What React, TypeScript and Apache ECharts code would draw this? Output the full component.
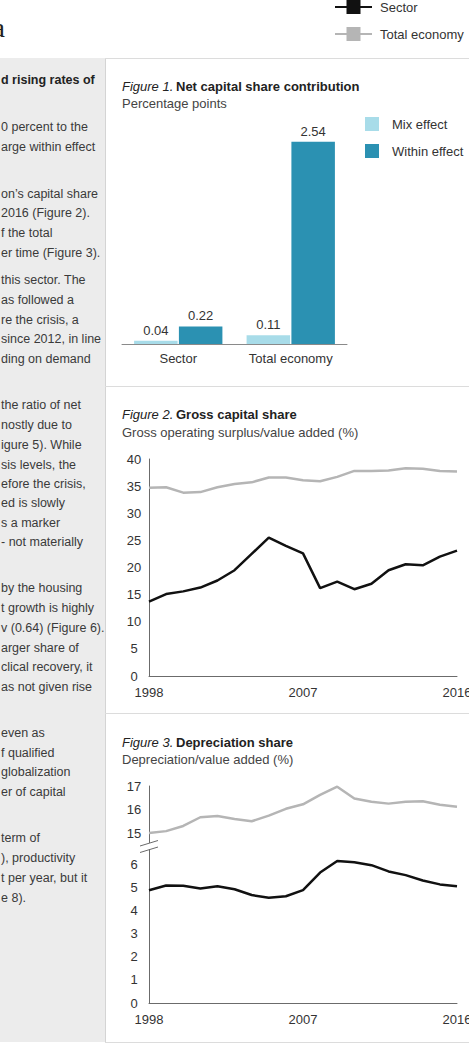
import React, { useEffect, useRef } from "react";
import * as echarts from "echarts";

// ---------- data ----------
const barCategories = ["Sector", "Total economy"];
const mixEffect = [0.04, 0.11];
const withinEffect = [0.22, 2.54];

const years = [
  "1998", "1999", "2000", "2001", "2002", "2003", "2004", "2005", "2006", "2007",
  "2008", "2009", "2010", "2011", "2012", "2013", "2014", "2015", "2016",
];

// Figure 2: gross operating surplus / value added (%)
const grossSector = [13.7, 15.1, 15.6, 16.3, 17.6, 19.5, 22.5, 25.5, 24.0, 22.6, 16.2, 17.4, 16.0, 17.0, 19.5, 20.6, 20.4, 22.0, 23.1];
const grossTotal = [34.7, 34.8, 33.8, 33.9, 34.8, 35.4, 35.7, 36.6, 36.6, 36.1, 35.9, 36.7, 37.8, 37.8, 37.9, 38.3, 38.2, 37.8, 37.7];

// Figure 3: depreciation / value added (%)
const deprSector = [4.87, 5.07, 5.06, 4.94, 5.04, 4.91, 4.66, 4.54, 4.61, 4.87, 5.63, 6.13, 6.08, 5.95, 5.68, 5.52, 5.29, 5.12, 5.04];
const deprTotal = [15.0, 15.08, 15.3, 15.67, 15.72, 15.6, 15.5, 15.74, 16.03, 16.22, 16.62, 16.97, 16.47, 16.33, 16.25, 16.33, 16.35, 16.2, 16.12];

// Left column (clipped article text)
const leftText = [
  "d rising rates of",
  "0 percent to the",
  "arge within effect",
  "on\u2019s capital share",
  "2016 (Figure 2).",
  "f the total",
  "er time (Figure 3).",
  "this sector. The",
  "as followed a",
  "re the crisis, a",
  "since 2012, in line",
  "ding on demand",
  "the ratio of net",
  "nostly due to",
  "igure 5). While",
  "sis levels, the",
  "efore the crisis,",
  "ed is slowly",
  "s a marker",
  "- not materially",
  "by the housing",
  "t growth is highly",
  "v (0.64) (Figure 6).",
  "arger share of",
  "clical recovery, it",
  "as not given rise",
  "even as",
  "f qualified",
  "globalization",
  "er of capital",
  "term of",
  "), productivity",
  "t per year, but it",
  "e 8).",
];
// vertical centre of each of those lines
const leftTextY = [
  80, 127, 147, 194, 213, 233, 253,
  280, 300, 320, 339, 359,
  405, 425, 445, 465, 484, 503, 523, 542,
  588, 608, 628, 648, 667, 687,
  733, 753, 772, 792,
  838, 858, 878, 898,
];

const FONT = "'Liberation Sans', Arial, Helvetica, sans-serif";
const AXIS_COLOR = "#6b6b6b";
const TEXT_COLOR = "#333333";
const SECTOR_COLOR = "#111111";
const TOTAL_COLOR = "#b5b5b5";
const MIX_COLOR = "#a8dce9";
const WITHIN_COLOR = "#2b91b2";

const LINE_ICON = "path://M0,6H11.5V0H25.5V6H37V8H25.5V14H11.5V8H0Z";

function txt(text: string, x: number, y: number, opts: any = {}) {
  return {
    type: "text",
    silent: true,
    style: {
      text,
      x,
      y,
      fill: opts.fill || TEXT_COLOR,
      fontSize: opts.fontSize || 13,
      fontFamily: opts.fontFamily || FONT,
      fontWeight: opts.fontWeight || "normal",
      fontStyle: opts.fontStyle || "normal",
      align: opts.align || "left",
      verticalAlign: "middle",
    },
  };
}

function seg(x1: number, y1: number, x2: number, y2: number, stroke: string, lineWidth = 1) {
  return {
    type: "line",
    silent: true,
    shape: { x1, y1, x2, y2 },
    style: { stroke, lineWidth },
  };
}

export default function App() {
  const ref = useRef<HTMLDivElement>(null);

  useEffect(() => {
    if (!ref.current) return;
    const chart = echarts.init(ref.current, undefined, { renderer: "svg" });

    const yAxisCommon = {
      type: "value",
      axisLine: { show: true, lineStyle: { color: AXIS_COLOR, width: 1 } },
      axisTick: { show: false },
      splitLine: { show: false },
      axisLabel: { fontSize: 13, color: TEXT_COLOR, fontFamily: FONT, align: "center", margin: 15 },
    };
    const xLineAxis = {
      type: "category",
      data: years,
      boundaryGap: false,
      axisLine: { show: true, lineStyle: { color: AXIS_COLOR, width: 1 } },
      axisTick: { show: false },
      axisLabel: {
        interval: 8,
        fontSize: 13,
        color: TEXT_COLOR,
        fontFamily: FONT,
        margin: 10,
        alignMinLabel: "center",
        alignMaxLabel: "center",
      },
    };

    const graphics: any[] = [
      // gray article panel
      { type: "rect", silent: true, shape: { x: 0, y: 58, width: 105, height: 984 }, style: { fill: "#ececec" } },
      // borders
      seg(105.5, 58, 105.5, 1042, "#d4d4d4"),
      seg(105, 58.5, 469, 58.5, "#dcdcdc"),
      seg(105, 386.5, 469, 386.5, "#dcdcdc"),
      seg(105, 713.5, 469, 713.5, "#dcdcdc"),
      seg(105, 1042.5, 469, 1042.5, "#dcdcdc"),
      // clipped heading glyph
      txt("a", 5, 27, { fontSize: 28, fontFamily: "'Liberation Serif', serif", fill: "#222", align: "right" }),
      // figure titles
      txt("Figure 1.", 122, 86, { fontStyle: "italic", fill: "#222" }),
      txt("Net capital share contribution", 176, 86, { fontWeight: "bold", fill: "#222" }),
      txt("Percentage points", 122, 103, { fill: "#444" }),
      txt("Figure 2.", 122, 414, { fontStyle: "italic", fill: "#222" }),
      txt("Gross capital share", 176, 414, { fontWeight: "bold", fill: "#222" }),
      txt("Gross operating surplus/value added (%)", 122, 432, { fill: "#444" }),
      txt("Figure 3.", 122, 742, { fontStyle: "italic", fill: "#222" }),
      txt("Depreciation share", 176, 742, { fontWeight: "bold", fill: "#222" }),
      txt("Depreciation/value added (%)", 122, 759, { fill: "#444" }),
      // broken axis joints for figure 3
      seg(149.5, 833, 149.5, 843, AXIS_COLOR),
      seg(149.5, 849, 149.5, 864, AXIS_COLOR),
      seg(140, 846, 158, 840.5, AXIS_COLOR),
      seg(140, 852.5, 158, 847, AXIS_COLOR),
    ];
    leftText.forEach((t, i) => {
      graphics.push(
        txt(t, 1, leftTextY[i], {
          align: "left",
          fontSize: 12.5,
          fontWeight: i === 0 ? "bold" : "normal",
          fill: i === 0 ? "#222" : "#3a3a3a",
        })
      );
    });

    const option: any = {
      animation: false,
      backgroundColor: "#ffffff",
      textStyle: { fontFamily: FONT },
      legend: [
        {
          data: ["Sector", "Total economy"],
          orient: "vertical",
          left: 335,
          top: 0,
          padding: 0,
          itemWidth: 37,
          itemHeight: 14,
          itemGap: 13,
          icon: LINE_ICON,
          itemStyle: { borderWidth: 0 },
          selectedMode: false,
          textStyle: { fontSize: 13, color: TEXT_COLOR, fontFamily: FONT, padding: [0, 0, 0, 3] },
        },
        {
          data: ["Mix effect", "Within effect"],
          orient: "vertical",
          left: 365,
          top: 117,
          padding: 0,
          itemWidth: 14,
          itemHeight: 14,
          itemGap: 13,
          icon: "rect",
          itemStyle: { borderWidth: 0 },
          selectedMode: false,
          textStyle: { fontSize: 13, color: TEXT_COLOR, fontFamily: FONT, padding: [0, 0, 0, 8] },
        },
      ],
      grid: [
        { left: 122, top: 137, width: 225, height: 207, outerBoundsMode: "none" },
        { left: 149, top: 459, width: 308, height: 217, outerBoundsMode: "none" },
        { left: 149, top: 786, width: 308, height: 47, outerBoundsMode: "none" },
        { left: 149, top: 864, width: 308, height: 139, outerBoundsMode: "none" },
      ],
      xAxis: [
        {
          gridIndex: 0,
          type: "category",
          data: barCategories,
          axisLine: { show: true, lineStyle: { color: "#8a8a8a", width: 1 } },
          axisTick: { show: false },
          axisLabel: { fontSize: 13, color: TEXT_COLOR, fontFamily: FONT, margin: 8 },
        },
        { gridIndex: 1, ...xLineAxis },
        { gridIndex: 2, type: "category", data: years, boundaryGap: false, show: false },
        { gridIndex: 3, ...xLineAxis },
      ],
      yAxis: [
        { gridIndex: 0, type: "value", min: 0, max: 2.6, show: false, splitLine: { show: false } },
        { gridIndex: 1, ...yAxisCommon, min: 0, max: 40, interval: 5 },
        { gridIndex: 2, ...yAxisCommon, min: 15, max: 17, interval: 1 },
        { gridIndex: 3, ...yAxisCommon, min: 0, max: 6, interval: 1 },
      ],
      series: [
        {
          name: "Mix effect",
          type: "bar",
          xAxisIndex: 0,
          yAxisIndex: 0,
          data: mixEffect,
          barWidth: 43.5,
          barGap: "3%",
          itemStyle: { color: MIX_COLOR },
          label: {
            show: true,
            position: "top",
            distance: 4,
            fontSize: 13,
            color: TEXT_COLOR,
            fontFamily: FONT,
            formatter: (p: any) => Number(p.value).toFixed(2),
          },
        },
        {
          name: "Within effect",
          type: "bar",
          xAxisIndex: 0,
          yAxisIndex: 0,
          data: withinEffect,
          barWidth: 43.5,
          barGap: "3%",
          itemStyle: { color: WITHIN_COLOR },
          label: {
            show: true,
            position: "top",
            distance: 4,
            fontSize: 13,
            color: TEXT_COLOR,
            fontFamily: FONT,
            formatter: (p: any) => Number(p.value).toFixed(2),
          },
        },
        {
          name: "Total economy",
          type: "line",
          xAxisIndex: 1,
          yAxisIndex: 1,
          data: grossTotal,
          symbol: "none",
          color: TOTAL_COLOR,
          itemStyle: { color: TOTAL_COLOR },
          lineStyle: { color: TOTAL_COLOR, width: 2.5 },
        },
        {
          name: "Sector",
          type: "line",
          xAxisIndex: 1,
          yAxisIndex: 1,
          data: grossSector,
          symbol: "none",
          color: SECTOR_COLOR,
          itemStyle: { color: SECTOR_COLOR },
          lineStyle: { color: SECTOR_COLOR, width: 2.5 },
        },
        {
          name: "Total economy",
          type: "line",
          xAxisIndex: 2,
          yAxisIndex: 2,
          data: deprTotal,
          symbol: "none",
          clip: false,
          color: TOTAL_COLOR,
          itemStyle: { color: TOTAL_COLOR },
          lineStyle: { color: TOTAL_COLOR, width: 2.5 },
        },
        {
          name: "Sector",
          type: "line",
          xAxisIndex: 3,
          yAxisIndex: 3,
          data: deprSector,
          symbol: "none",
          clip: false,
          color: SECTOR_COLOR,
          itemStyle: { color: SECTOR_COLOR },
          lineStyle: { color: SECTOR_COLOR, width: 2.5 },
        },
      ],
      graphic: { elements: graphics },
    };

    chart.setOption(option);
    return () => {
      chart.dispose();
    };
  }, []);

  return (
    <div
      ref={ref}
      style={{ position: "absolute", left: 0, top: 0, width: 469, height: 1063, overflow: "hidden" }}
    />
  );
}
